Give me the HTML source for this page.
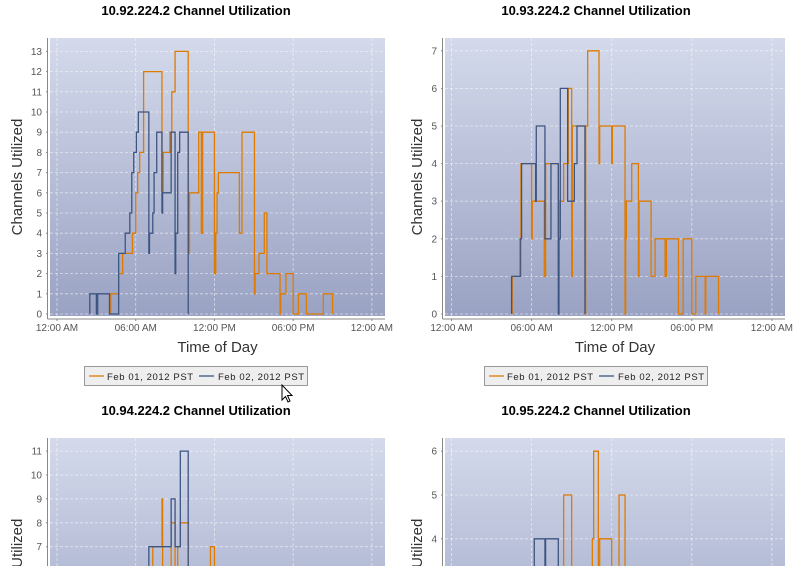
<!DOCTYPE html>
<html><head><meta charset="utf-8">
<style>
html,body{margin:0;padding:0;background:#fff;width:800px;height:566px;overflow:hidden;}
svg{display:block;font-family:"Liberation Sans",sans-serif;}
</style></head>
<body>
<svg id="root" width="800" height="566" viewBox="0 0 800 566" xmlns="http://www.w3.org/2000/svg">
<defs>
<linearGradient id="bg" x1="0" y1="0" x2="0" y2="1">
<stop offset="0" stop-color="#d4daeb"/><stop offset="1" stop-color="#9aa2c3"/>
</linearGradient>
<linearGradient id="bg2" x1="0" y1="0" x2="0" y2="1">
<stop offset="0" stop-color="#d4daeb"/><stop offset="1" stop-color="#b6bdd7"/>
</linearGradient>
<clipPath id="c0"><rect x="50" y="38" width="335" height="279"/></clipPath>
<clipPath id="c1"><rect x="445" y="38" width="340" height="279"/></clipPath>
<clipPath id="c2"><rect x="50" y="438" width="335" height="128"/></clipPath>
<clipPath id="c3"><rect x="445" y="438" width="340" height="128"/></clipPath>
</defs>
<g id="charts"></g>
<g>
<rect x="84.5" y="366.5" width="223" height="19" fill="#eeeeee" stroke="#999"/>
<line x1="89" y1="376" x2="104" y2="376" stroke="#e07b00" stroke-width="1.3"/>
<text x="107" y="380" font-size="9.5" fill="#222" letter-spacing="0.6">Feb 01, 2012 PST</text>
<line x1="199" y1="376" x2="214" y2="376" stroke="#3d5582" stroke-width="1.3"/>
<text x="218" y="380" font-size="9.5" fill="#222" letter-spacing="0.6">Feb 02, 2012 PST</text>
</g>
<g>
<rect x="484.5" y="366.5" width="223" height="19" fill="#eeeeee" stroke="#999"/>
<line x1="489" y1="376" x2="504" y2="376" stroke="#e07b00" stroke-width="1.3"/>
<text x="507" y="380" font-size="9.5" fill="#222" letter-spacing="0.6">Feb 01, 2012 PST</text>
<line x1="599" y1="376" x2="614" y2="376" stroke="#3d5582" stroke-width="1.3"/>
<text x="618" y="380" font-size="9.5" fill="#222" letter-spacing="0.6">Feb 02, 2012 PST</text>
</g>
<path d="M282 385 L282 400 L285.5 396.5 L288 402 L290 401 L287.5 395.5 L292 395.5 Z" fill="#fff" stroke="#000" stroke-width="1"/>
</svg>
<script>
// Step series data: hour of day where value begins, and value
const tlOrangeT=[4.1,4.7,5.0,5.75,6.0,6.15,6.3,6.6,8.0,8.1,8.6,8.75,9.0,10.0,10.1,10.8,11.0,11.1,12.0,12.1,12.2,12.3,13.9,14.1,15.05,15.1,15.4,15.8,16.0,17.0,17.05,17.45,18.0,18.4,19.0,20.3,21.0];
const tlOrangeV=[1,2,3,4,6,7,8,12,6,8,9,11,13,3,6,9,4,9,2,4,6,7,4,9,1,2,3,5,2,0,1,2,0,1,0,1,0];
const tlBlueT=[2.5,3.0,3.1,4.0,4.7,5.2,5.55,5.7,5.85,6.05,6.2,7.0,7.05,7.3,7.4,7.6,8.0,8.05,8.7,9.0,9.05,9.2,9.35,10.0];
const tlBlueV=[1,0,1,0,3,4,5,7,8,9,10,3,4,5,7,9,5,6,9,2,4,8,9,0];
const trOrangeT=[4.55,5.2,6.0,6.05,6.95,7.05,8.0,8.05,8.4,8.75,9.0,9.05,10.0,10.05,10.2,11.05,11.1,12.0,12.05,13.0,13.05,13.1,13.5,14.0,14.05,14.95,15.25,16.0,16.1,17.0,17.35,18.0,18.3,19.0,19.05,20.0];
const trOrangeV=[1,4,2,3,1,4,1,3,4,6,1,5,0,5,7,4,5,4,5,0,2,3,4,1,3,1,2,1,2,0,2,0,1,0,1,0];
const trBlueT=[4.5,5.15,5.25,6.3,6.35,7.0,7.45,8.0,8.05,8.15,8.7,9.2,9.4,10.0];
const trBlueV=[1,2,4,3,5,2,4,0,2,6,3,4,5,0];
const blOrangeT=[7.3,8.0,8.05,8.7,9.0,9.2,9.4,10.0,11.7,12.0];
const blOrangeV=[7,9,5,8,5,7,8,4,7,3];
const blBlueT=[7.0,8.7,9.0,9.4,10.0];
const blBlueV=[7,9,7,11,4];
const brOrangeT=[8.4,9.0,10.55,10.65,11.0,11.1,12.0,12.55,13.0];
const brOrangeV=[5,3,4,6,2,4,3,5,2];
const brBlueT=[6.2,7.0,7.05,8.0];
const brBlueV=[4,2,4,2];
const xTickHours=[0,6,12,18,24];
const xTickLabels=["12:00 AM","06:00 AM","12:00 PM","06:00 PM","12:00 AM"];
const titles=["10.92.224.2 Channel Utilization","10.93.224.2 Channel Utilization","10.94.224.2 Channel Utilization","10.95.224.2 Channel Utilization"];
const yMaxTicks=[13,7,11,6];

const NS="http://www.w3.org/2000/svg";
const root=document.getElementById('charts');
function mk(tag,attrs,parent){const e=document.createElementNS(NS,tag);for(const k in attrs)e.setAttribute(k,attrs[k]);(parent||root).appendChild(e);return e;}

const cfg=[
 {px:50,pw:335,top:38,bot:316,y0:314,unit:20.2,x0:57,hx:13.12,clip:'c0',oT:tlOrangeT,oV:tlOrangeV,bT:tlBlueT,bV:tlBlueV,full:true,tcx:196,gx:0},
 {px:445,pw:340,top:38,bot:316,y0:314,unit:37.6,x0:451.5,hx:13.35,clip:'c1',oT:trOrangeT,oV:trOrangeV,bT:trBlueT,bV:trBlueV,full:true,tcx:596,gx:400},
 {px:50,pw:335,top:438,bot:566,y0:714,unit:23.9,x0:57,hx:13.12,clip:'c2',oT:blOrangeT,oV:blOrangeV,bT:blBlueT,bV:blBlueV,full:false,tcx:196,gx:0},
 {px:445,pw:340,top:438,bot:566,y0:714,unit:43.8,x0:451.5,hx:13.35,clip:'c3',oT:brOrangeT,oV:brOrangeV,bT:brBlueT,bV:brBlueV,full:false,tcx:596,gx:400}
];

cfg.forEach((c,i)=>{
 const g=mk('g',{});
 
 
 const X=h=>c.x0+h*c.hx, Y=v=>c.y0-v*c.unit;
 const t=mk('text',{x:c.tcx,y:c.top-23,'text-anchor':'middle','font-size':13,'font-weight':'bold',fill:'#000'},g);
 t.textContent=titles[i];
 
 
 const bg=mk('rect',{x:c.px,y:c.top,width:c.pw,height:c.bot-c.top,fill:c.full?'url(#bg)':'url(#bg2)'},g);
 
 
 for(let v=0;v<=yMaxTicks[i];v++){const y=Y(v);if(y<c.top||y>c.bot)continue;
  mk('line',{x1:c.px,x2:c.px+c.pw,y1:y,y2:y,stroke:'#ffffff','stroke-opacity':0.6,'stroke-dasharray':'3,2','stroke-width':0.8},g);
  const l=mk('text',{x:c.px-8,y:y+3.5,'text-anchor':'end','font-size':10,fill:'#555'},g);
  l.textContent=v;
  
  
  mk('line',{x1:c.px-4,x2:c.px-2,y1:y,y2:y,stroke:'#888'},g);
 }
 xTickHours.forEach((h,k)=>{const x=X(h);
  mk('line',{x1:x,x2:x,y1:c.top,y2:c.bot,stroke:'#ffffff','stroke-opacity':0.6,'stroke-dasharray':'3,2','stroke-width':0.8},g);
  if(c.full){
   mk('line',{x1:x,x2:x,y1:c.bot+3,y2:c.bot+5,stroke:'#888'},g);
   const l=mk('text',{x:x,y:331,'text-anchor':'middle','font-size':10,fill:'#555'},g);
   l.textContent=xTickLabels[k];
   
   
  }
 });
 [[c.oT,c.oV,'#e07b00','series-feb01'],[c.bT,c.bV,'#3d5582','series-feb02']].forEach(s=>{
  const T=s[0],V=s[1];
  let d='M'+X(T[0])+' '+(c.full?Y(0):c.bot+5);
  for(let j=0;j<T.length;j++){d+=' L'+X(T[j])+' '+Y(V[j]);if(j+1<T.length)d+=' L'+X(T[j+1])+' '+Y(V[j]);}
  const p=mk('path',{d:d,fill:'none',stroke:s[2],'stroke-width':1.3,'clip-path':'url(#'+c.clip+')'},g);
  
  
 });
 mk('line',{x1:c.px-2.5,x2:c.px-2.5,y1:c.top,y2:c.full?c.bot+3:566,stroke:'#888'},g);
 if(c.full) mk('line',{x1:c.px-2.5,x2:c.px+c.pw,y1:c.bot+3,y2:c.bot+3,stroke:'#888'},g);
 const yt=mk('text',{x:0,y:0,'text-anchor':'middle','font-size':15,fill:'#333',transform:'translate('+(c.gx+22)+','+(c.full?177:577)+') rotate(-90)'},g);
 yt.textContent='Channels Utilized';
 
 
 if(c.full){
  const xt=mk('text',{x:c.px+c.pw/2,y:352,'text-anchor':'middle','font-size':15,fill:'#333'},g);
  xt.textContent='Time of Day';
  
  
 }
});
</script>
</body></html>
